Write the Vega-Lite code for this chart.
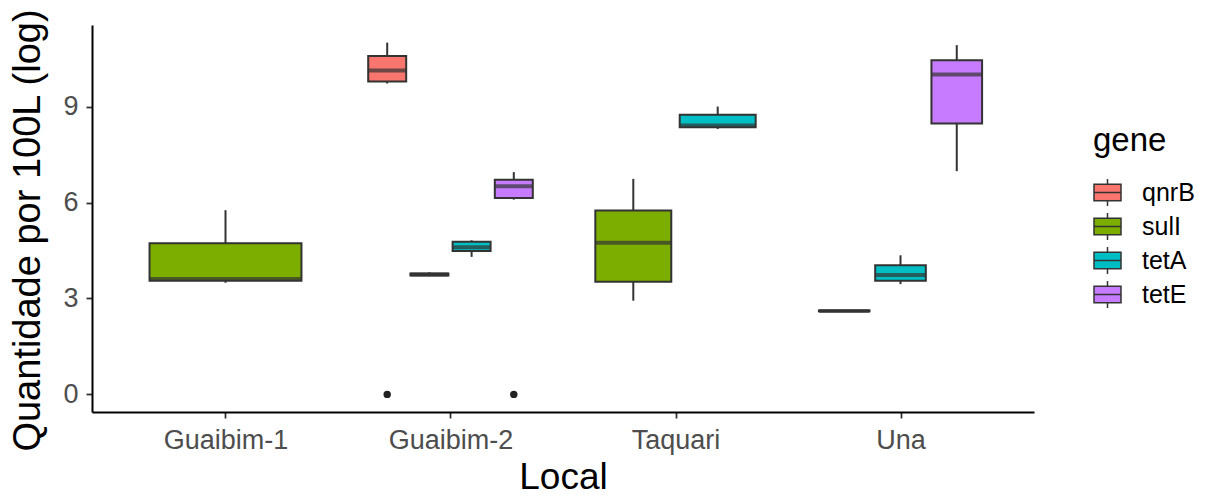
{
  "$schema": "https://vega.github.io/schema/vega-lite/v6.json",
  "width": 942,
  "height": 387,
  "autosize": {"type": "none"},
  "padding": {"left": 92, "top": 25, "right": 183, "bottom": 86},
  "background": "white",
  "datasets": {
    "boxes": [
      {"Local": "Guaibim-1", "gene": "sulI", "lower": 3.49, "q1": 3.55, "median": 3.61, "q3": 4.73, "upper": 5.76},
      {"Local": "Guaibim-2", "gene": "qnrB", "lower": 9.72, "q1": 9.78, "median": 10.13, "q3": 10.58, "upper": 11.0},
      {"Local": "Guaibim-2", "gene": "sulI", "lower": 3.7, "q1": 3.72, "median": 3.75, "q3": 3.78, "upper": 3.82},
      {"Local": "Guaibim-2", "gene": "tetA", "lower": 4.3, "q1": 4.48, "median": 4.6, "q3": 4.77, "upper": 4.82},
      {"Local": "Guaibim-2", "gene": "tetE", "lower": 6.09, "q1": 6.14, "median": 6.51, "q3": 6.71, "upper": 6.95},
      {"Local": "Taquari", "gene": "sulI", "lower": 2.93, "q1": 3.52, "median": 4.74, "q3": 5.75, "upper": 6.74},
      {"Local": "Taquari", "gene": "tetA", "lower": 8.3, "q1": 8.35, "median": 8.41, "q3": 8.74, "upper": 9.0},
      {"Local": "Una", "gene": "sulI", "lower": 2.59, "q1": 2.6, "median": 2.61, "q3": 2.62, "upper": 2.63},
      {"Local": "Una", "gene": "tetA", "lower": 3.45, "q1": 3.55, "median": 3.73, "q3": 4.04, "upper": 4.35},
      {"Local": "Una", "gene": "tetE", "lower": 6.98, "q1": 8.47, "median": 10.0, "q3": 10.45, "upper": 10.92}
    ],
    "outliers": [
      {"Local": "Guaibim-2", "gene": "qnrB", "value": 0},
      {"Local": "Guaibim-2", "gene": "tetE", "value": 0}
    ]
  },
  "config": {
    "font": "Liberation Sans",
    "view": {"stroke": null},
    "axis": {
      "grid": false,
      "domainColor": "#000000",
      "domainWidth": 2,
      "tickColor": "#333333",
      "tickWidth": 1.8,
      "tickSize": 6,
      "labelFontSize": 27,
      "labelColor": "#4d4d4d",
      "titleFontSize": 37,
      "titleFontWeight": "normal",
      "titleColor": "#000000"
    },
    "legend": {
      "orient": "none",
      "legendX": 1001,
      "legendY": 100,
      "padding": 0,
      "titleFontSize": 33,
      "titleFontWeight": "normal",
      "titleColor": "#000000",
      "titlePadding": 20,
      "labelFontSize": 25,
      "labelColor": "#000000",
      "labelOffset": 20,
      "rowPadding": 1,
      "symbolType": "M-1,-0.62H1V0.62H-1Z M-1,0H1 M0,-0.62V-1 M0,0.62V1",
      "symbolSize": 729,
      "symbolStrokeColor": "#333333",
      "symbolStrokeWidth": 1.5,
      "symbolOpacity": 1
    }
  },
  "layer": [
    {
      "data": {"name": "boxes"},
      "mark": {"type": "point", "opacity": 0},
      "encoding": {
        "x": {
          "field": "Local", "type": "nominal",
          "scale": {"type": "point", "domain": ["Guaibim-1", "Guaibim-2", "Taquari", "Una"], "padding": 0.5933},
          "axis": {"title": "Local", "labelAngle": 0, "labelPadding": 9, "titlePadding": 6}
        },
        "y": {
          "field": "median", "type": "quantitative",
          "scale": {"domain": [-0.55, 11.55], "nice": false, "zero": false},
          "axis": {"title": "Quantidade por 100L (log)", "values": [0, 3, 6, 9], "labelPadding": 8, "titlePadding": 15, "titleFontSize": 38, "titleY": 205}
        }
      }
    },
    {
      "data": {"name": "boxes"},
      "transform": [{"filter": "datum.Local === 'Guaibim-1'"}],
      "encoding": {
        "x": {"field": "gene", "type": "nominal", "scale": {"range": [49.1, 217.9], "paddingInner": 0.1, "paddingOuter": 0.05}, "axis": null}
      },
      "layer": [
        {"mark": {"type": "rule", "color": "#333333", "strokeWidth": 2},
         "encoding": {"y": {"field": "lower", "type": "quantitative"}, "y2": {"field": "upper"}}},
        {"mark": {"type": "bar", "stroke": "#333333", "strokeWidth": 2},
         "encoding": {"y": {"field": "q1", "type": "quantitative"}, "y2": {"field": "q3"},
           "color": {"field": "gene", "type": "nominal", "title": "gene",
             "scale": {"domain": ["qnrB", "sulI", "tetA", "tetE"], "range": ["#F8766D", "#7CAE00", "#00BFC4", "#C77CFF"]}}}},
        {"mark": {"type": "tick", "color": "#333333", "thickness": 4, "size": 151.9, "orient": "horizontal"},
         "encoding": {"y": {"field": "median", "type": "quantitative"}}}
      ]
    },
    {
      "data": {"name": "boxes"},
      "transform": [{"filter": "datum.Local === 'Guaibim-2'"}],
      "encoding": {
        "x": {"field": "gene", "type": "nominal", "scale": {"range": [274.1, 442.9], "paddingInner": 0.1, "paddingOuter": 0.05}, "axis": null}
      },
      "layer": [
        {"mark": {"type": "rule", "color": "#333333", "strokeWidth": 2},
         "encoding": {"y": {"field": "lower", "type": "quantitative"}, "y2": {"field": "upper"}}},
        {"mark": {"type": "bar", "stroke": "#333333", "strokeWidth": 2},
         "encoding": {"y": {"field": "q1", "type": "quantitative"}, "y2": {"field": "q3"},
           "color": {"field": "gene", "type": "nominal", "title": "gene"}}},
        {"mark": {"type": "tick", "color": "#333333", "thickness": 4, "size": 38, "orient": "horizontal"},
         "encoding": {"y": {"field": "median", "type": "quantitative"}}},
        {"data": {"name": "outliers"},
         "mark": {"type": "point", "filled": true, "color": "#222222", "size": 55, "opacity": 1},
         "encoding": {"x": {"field": "gene", "type": "nominal"}, "y": {"field": "value", "type": "quantitative"}}}
      ]
    },
    {
      "data": {"name": "boxes"},
      "transform": [{"filter": "datum.Local === 'Taquari'"}],
      "encoding": {
        "x": {"field": "gene", "type": "nominal", "scale": {"range": [499.1, 667.9], "paddingInner": 0.1, "paddingOuter": 0.05}, "axis": null}
      },
      "layer": [
        {"mark": {"type": "rule", "color": "#333333", "strokeWidth": 2},
         "encoding": {"y": {"field": "lower", "type": "quantitative"}, "y2": {"field": "upper"}}},
        {"mark": {"type": "bar", "stroke": "#333333", "strokeWidth": 2},
         "encoding": {"y": {"field": "q1", "type": "quantitative"}, "y2": {"field": "q3"},
           "color": {"field": "gene", "type": "nominal", "title": "gene"}}},
        {"mark": {"type": "tick", "color": "#333333", "thickness": 4, "size": 75.9, "orient": "horizontal"},
         "encoding": {"y": {"field": "median", "type": "quantitative"}}}
      ]
    },
    {
      "data": {"name": "boxes"},
      "transform": [{"filter": "datum.Local === 'Una'"}],
      "encoding": {
        "x": {"field": "gene", "type": "nominal", "scale": {"range": [724.1, 892.9], "paddingInner": 0.1, "paddingOuter": 0.05}, "axis": null}
      },
      "layer": [
        {"mark": {"type": "rule", "color": "#333333", "strokeWidth": 2},
         "encoding": {"y": {"field": "lower", "type": "quantitative"}, "y2": {"field": "upper"}}},
        {"mark": {"type": "bar", "stroke": "#333333", "strokeWidth": 2},
         "encoding": {"y": {"field": "q1", "type": "quantitative"}, "y2": {"field": "q3"},
           "color": {"field": "gene", "type": "nominal", "title": "gene"}}},
        {"mark": {"type": "tick", "color": "#333333", "thickness": 4, "size": 50.6, "orient": "horizontal"},
         "encoding": {"y": {"field": "median", "type": "quantitative"}}}
      ]
    }
  ],
  "resolve": {"scale": {"x": "independent"}, "axis": {"x": "independent"}}
}
